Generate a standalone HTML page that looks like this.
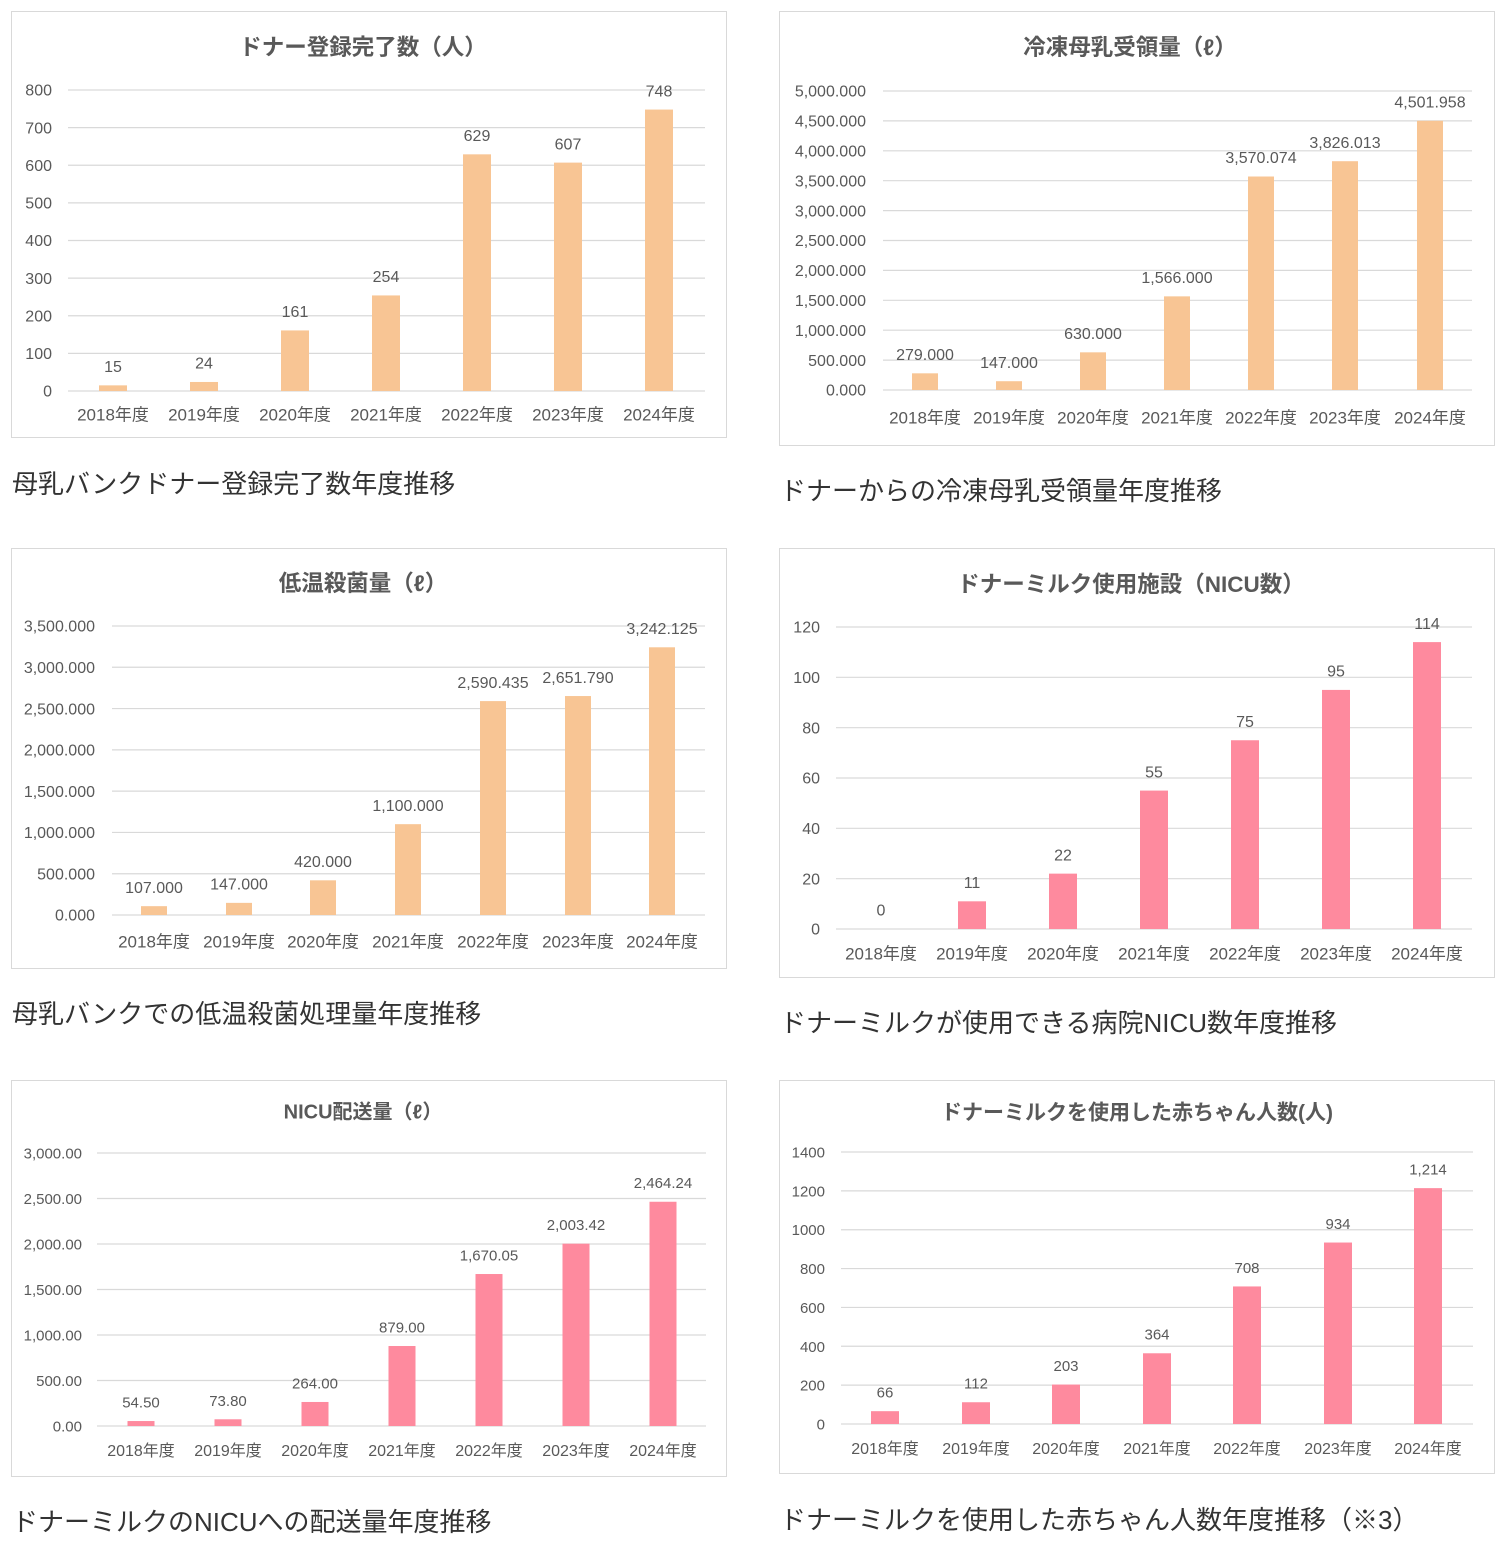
<!DOCTYPE html>
<html><head><meta charset="utf-8"><style>
body{margin:0;background:#fff;width:1508px;height:1544px;overflow:hidden}
svg{display:block}
text{font-family:"Liberation Sans","Noto Sans CJK JP",sans-serif;fill:#595959}
</style></head><body>
<svg id="s" width="1508" height="1544" xmlns="http://www.w3.org/2000/svg"></svg>
<script>
const O="#f8c594",P="#fe8a9e";
const C=[
{b:[11,11,715,426],t:"ドナー登録完了数（人）",ty:47,tx:363,ts:22.5,ticks:["0","100","200","300","400","500","600","700","800"],max:800,gt:90,g0:391,lr:52,gx:[68,705],c:[113,204,295,386,477,568,659],w:28,v:[15,24,161,254,629,607,748],cy:414,col:O,cap:"母乳バンクドナー登録完了数年度推移",capy:484,fs:16},
{b:[779,11,715,434],t:"冷凍母乳受領量（ℓ）",ty:47,tx:1130,ts:22.5,ticks:["0.000","500.000","1,000.000","1,500.000","2,000.000","2,500.000","3,000.000","3,500.000","4,000.000","4,500.000","5,000.000"],max:5000,gt:91,g0:390,lr:866,gx:[883,1472],c:[925,1009,1093,1177,1261,1345,1430],w:26,v:[279,147,630,1566,3570.074,3826.013,4501.958],vl:["279.000","147.000","630.000","1,566.000","3,570.074","3,826.013","4,501.958"],cy:417,col:O,cap:"ドナーからの冷凍母乳受領量年度推移",capy:491,fs:16},
{b:[11,548,715,420],t:"低温殺菌量（ℓ）",ty:583,tx:363,ts:22.5,ticks:["0.000","500.000","1,000.000","1,500.000","2,000.000","2,500.000","3,000.000","3,500.000"],max:3500,gt:626,g0:915,lr:95,gx:[112,705],c:[154,239,323,408,493,578,662],w:26,v:[107,147,420,1100,2590.435,2651.79,3242.125],vl:["107.000","147.000","420.000","1,100.000","2,590.435","2,651.790","3,242.125"],cy:941,col:O,cap:"母乳バンクでの低温殺菌処理量年度推移",capy:1014,fs:16},
{b:[779,548,715,429],t:"ドナーミルク使用施設（NICU数）",ty:584,tx:1131,ts:22.5,ticks:["0","20","40","60","80","100","120"],max:120,gt:627,g0:929,lr:820,gx:[836,1472],c:[881,972,1063,1154,1245,1336,1427],w:28,v:[0,11,22,55,75,95,114],cy:953,col:P,cap:"ドナーミルクが使用できる病院NICU数年度推移",capy:1023,fs:16},
{b:[11,1080,715,396],t:"NICU配送量（ℓ）",ty:1111,tx:363,ts:20,ticks:["0.00","500.00","1,000.00","1,500.00","2,000.00","2,500.00","3,000.00"],max:3000,gt:1153,g0:1426,lr:82,gx:[97,706],c:[141,228,315,402,489,576,663],w:27,v:[54.5,73.8,264,879,1670.05,2003.42,2464.24],vl:["54.50","73.80","264.00","879.00","1,670.05","2,003.42","2,464.24"],cy:1450,col:P,cap:"ドナーミルクのNICUへの配送量年度推移",capy:1522,fs:15},
{b:[779,1080,715,393],t:"ドナーミルクを使用した赤ちゃん人数(人)",ty:1112,tx:1137,ts:21,ticks:["0","200","400","600","800","1000","1200","1400"],max:1400,gt:1152,g0:1424,lr:825,gx:[841,1473],c:[885,976,1066,1157,1247,1338,1428],w:28,v:[66,112,203,364,708,934,1214],vl:["66","112","203","364","708","934","1,214"],cy:1448,col:P,cap:"ドナーミルクを使用した赤ちゃん人数年度推移（※3）",capy:1520,fs:15}
];
let h="";
C.forEach(c=>{
h+=`<rect x="${c.b[0]+.5}" y="${c.b[1]+.5}" width="${c.b[2]}" height="${c.b[3]}" fill="#fff" stroke="#d9d9d9"/>`;
h+=`<text x="${c.tx}" y="${c.ty+2}" text-anchor="middle" dominant-baseline="middle" font-size="${c.ts}" font-weight="bold">${c.t}</text>`;
const n=c.ticks.length-1;
c.ticks.forEach((t,i)=>{const y=c.g0-(c.g0-c.gt)*i/n;
h+=`<line x1="${c.gx[0]}" x2="${c.gx[1]}" y1="${y}" y2="${y}" stroke="#d9d9d9" stroke-width="1.2"/>`;
h+=`<text x="${c.lr}" y="${y+1.5}" text-anchor="end" dominant-baseline="middle" font-size="${c.fs}">${t}</text>`;});
c.v.forEach((v,i)=>{const hh=(c.g0-c.gt)*v/c.max;const y=c.g0-hh;
if(hh>0)h+=`<rect x="${c.c[i]-c.w/2}" y="${y}" width="${c.w}" height="${hh}" fill="${c.col}"/>`;
const lab=c.vl?c.vl[i]:String(v);
h+=`<text x="${c.c[i]}" y="${y-17.5}" text-anchor="middle" dominant-baseline="middle" font-size="${c.fs}">${lab}</text>`;
h+=`<text x="${c.c[i]}" y="${c.cy+2}" text-anchor="middle" dominant-baseline="middle" font-size="${c.fs+1}">${2018+i}年度</text>`;});
h+=`<text x="${c.b[0]+1}" y="${c.capy+2}" dominant-baseline="middle" font-size="26" style="fill:#333">${c.cap}</text>`;
});
document.getElementById("s").innerHTML=h;
</script>
</body></html>
